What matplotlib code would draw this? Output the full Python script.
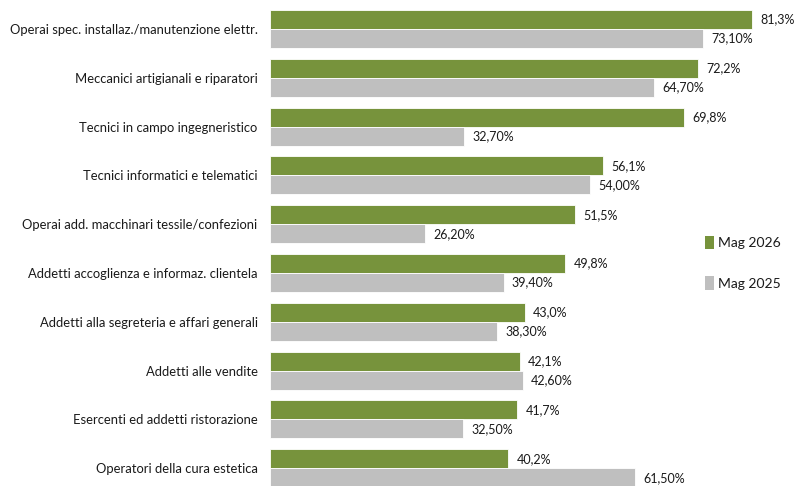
import matplotlib
matplotlib.use("Agg")
import matplotlib.pyplot as plt
from matplotlib.patches import Patch

categories = [
    "Operai spec. installaz./manutenzione elettr.",
    "Meccanici artigianali e riparatori",
    "Tecnici in campo ingegneristico",
    "Tecnici informatici e telematici",
    "Operai add. macchinari tessile/confezioni",
    "Addetti accoglienza e informaz. clientela",
    "Addetti alla segreteria e affari generali",
    "Addetti alle vendite",
    "Esercenti ed addetti ristorazione",
    "Operatori della cura estetica",
]
mag_2026 = [81.3, 72.2, 69.8, 56.1, 51.5, 49.8, 43.0, 42.1, 41.7, 40.2]
mag_2025 = [73.10, 64.70, 32.70, 54.00, 26.20, 39.40, 38.30, 42.60, 32.50, 61.50]
series_names = ["Mag 2026", "Mag 2025"]

GREEN = "#77933C"
GREY = "#BFBFBF"
TEXT = "#1a1a1a"

plt.rcParams["font.family"] = ["Lato", "Liberation Sans", "DejaVu Sans"]

fig = plt.figure(figsize=(8.0, 4.86), dpi=100)
ax = fig.add_axes([0.3375, 0.0, 0.6625, 1.0])

h = 0.39
pos = list(range(len(categories)))
ax.barh([p - h / 2 for p in pos], mag_2026, height=h, color=GREEN,
        edgecolor="white", linewidth=0.6)
ax.barh([p + h / 2 for p in pos], mag_2025, height=h, color=GREY,
        edgecolor="white", linewidth=0.6)

for p, v in zip(pos, mag_2026):
    ax.annotate(f"{v:.1f}%".replace(".", ","), (v, p - h / 2),
                xytext=(6, 0), textcoords="offset points",
                va="center", ha="left", fontsize=9, color=TEXT)
for p, v in zip(pos, mag_2025):
    ax.annotate(f"{v:.2f}%".replace(".", ","), (v, p + h / 2),
                xytext=(6, 0), textcoords="offset points",
                va="center", ha="left", fontsize=9, color=TEXT)

ax.set_xlim(0, 89.4)
ax.set_ylim(9.365, -0.594)
ax.set_yticks(pos)
ax.set_yticklabels(categories, fontsize=9.4, color=TEXT)
ax.tick_params(axis="y", length=0, pad=9)
ax.set_xticks([])
for s in ax.spines.values():
    s.set_visible(False)

handles = [Patch(facecolor=GREEN), Patch(facecolor=GREY)]
fig.legend(handles, series_names, loc="center left",
           bbox_to_anchor=(0.865, 0.459), frameon=False,
           fontsize=10, handlelength=0.7, handleheight=1.1,
           handletextpad=0.25, labelspacing=1.95, labelcolor=TEXT)

fig.savefig("out.png", dpi=100)
